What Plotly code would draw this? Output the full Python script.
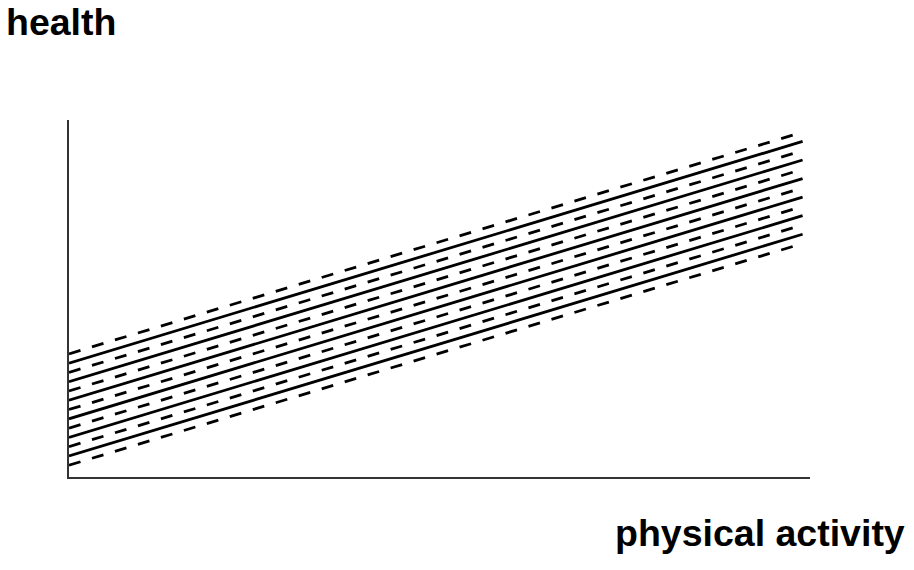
"""Parallel health vs physical activity lines (solid and dashed)."""

import plotly.graph_objects as go

# line endpoints, top to bottom, in axis units (0-100)
X_ENDS = [0, 99]
Y_START = [34.5, 31.9, 29.3, 26.7, 24.1, 21.5, 18.9, 16.3, 13.7, 11.1, 8.5, 5.9, 3.3]
Y_END = [96.6, 94.0, 91.4, 88.8, 86.2, 83.6, 81.0, 78.4, 75.8, 73.2, 70.6, 68.0, 65.4]

Y_LABEL = "health"
X_LABEL = "physical activity"

FONT = "Liberation Sans, Arial, sans-serif"

fig = go.Figure()
for i, (y0, y1) in enumerate(zip(Y_START, Y_END)):
    dashed = i % 2 == 0
    fig.add_trace(
        go.Scatter(
            x=X_ENDS,
            y=[y0, y1],
            mode="lines",
            line=dict(color="#000000", width=2.8, dash="12px,12px" if dashed else "solid"),
            hoverinfo="skip",
            showlegend=False,
        )
    )

axis_style = dict(
    showline=True,
    linecolor="#333333",
    linewidth=1.5,
    showgrid=False,
    zeroline=False,
    showticklabels=False,
    ticks="",
    fixedrange=True,
)
fig.update_xaxes(range=[0, 100], **axis_style)
fig.update_yaxes(range=[0, 100], **axis_style)

fig.add_annotation(
    text=f"<b>{Y_LABEL}</b>",
    xref="paper", yref="paper",
    x=-0.0877, y=1.339,
    xanchor="left", yanchor="top",
    showarrow=False,
    font=dict(family=FONT, size=37.5, color="#000000"),
)
fig.add_annotation(
    text=f"<b>{X_LABEL}</b>",
    xref="paper", yref="paper",
    x=1.131, y=-0.092,
    xanchor="right", yanchor="top",
    showarrow=False,
    font=dict(family=FONT, size=37.5, color="#000000"),
)

fig.update_layout(
    width=914,
    height=570,
    margin=dict(l=69, r=104, t=120, b=93),
    paper_bgcolor="#ffffff",
    plot_bgcolor="#ffffff",
    showlegend=False,
)

# drop the browser's default body margin so the figure sits at the page corner
fig.write_html(
    "out.html",
    config={"displayModeBar": False},
    post_script="document.body.style.margin = '0'; document.body.style.overflow = 'hidden';",
)
